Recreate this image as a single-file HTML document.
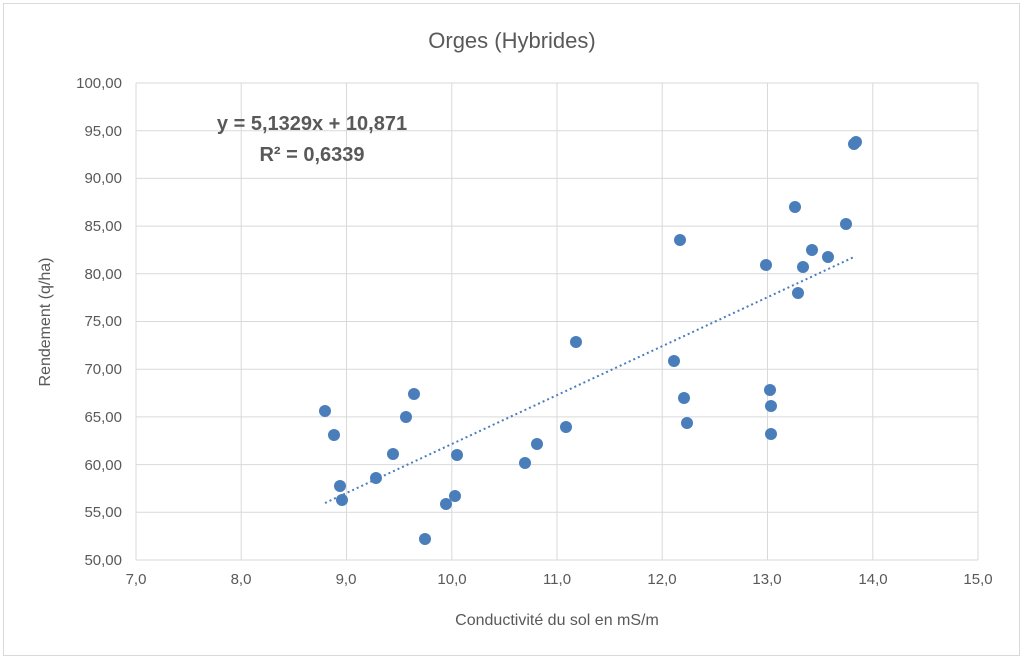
<!DOCTYPE html>
<html><head><meta charset="utf-8"><style>
body{margin:0;background:#fff;}
svg text{font-family:"Liberation Sans",sans-serif;}
</style></head><body>
<svg width="1024" height="660" xmlns="http://www.w3.org/2000/svg">
<rect x="3.5" y="3.5" width="1016" height="652" fill="#fff" stroke="#d9d9d9"/>
<text x="512" y="48" font-size="22" fill="#595959" text-anchor="middle">Orges (Hybrides)</text>
<g stroke="#d9d9d9" stroke-width="1">
<line x1="136" y1="83" x2="978" y2="83"/><line x1="136" y1="130.7" x2="978" y2="130.7"/>
<line x1="136" y1="178.4" x2="978" y2="178.4"/><line x1="136" y1="226.1" x2="978" y2="226.1"/>
<line x1="136" y1="273.8" x2="978" y2="273.8"/><line x1="136" y1="321.5" x2="978" y2="321.5"/>
<line x1="136" y1="369.2" x2="978" y2="369.2"/><line x1="136" y1="416.9" x2="978" y2="416.9"/>
<line x1="136" y1="464.6" x2="978" y2="464.6"/><line x1="136" y1="512.3" x2="978" y2="512.3"/>
<line x1="136" y1="560" x2="978" y2="560"/>
<line x1="136" y1="83" x2="136" y2="560"/><line x1="241.2" y1="83" x2="241.2" y2="560"/>
<line x1="346.5" y1="83" x2="346.5" y2="560"/><line x1="451.8" y1="83" x2="451.8" y2="560"/>
<line x1="557" y1="83" x2="557" y2="560"/><line x1="662.2" y1="83" x2="662.2" y2="560"/>
<line x1="767.5" y1="83" x2="767.5" y2="560"/><line x1="872.8" y1="83" x2="872.8" y2="560"/>
<line x1="978" y1="83" x2="978" y2="560"/>
</g>
<g font-size="15" fill="#595959" text-anchor="end">
<text x="122" y="88">100,00</text><text x="122" y="136">95,00</text><text x="122" y="183">90,00</text>
<text x="122" y="231">85,00</text><text x="122" y="279">80,00</text><text x="122" y="326">75,00</text>
<text x="122" y="374">70,00</text><text x="122" y="422">65,00</text><text x="122" y="470">60,00</text>
<text x="122" y="517">55,00</text><text x="122" y="565">50,00</text>
</g>
<g font-size="15" fill="#595959" text-anchor="middle">
<text x="136" y="584">7,0</text><text x="241" y="584">8,0</text><text x="346" y="584">9,0</text>
<text x="452" y="584">10,0</text><text x="557" y="584">11,0</text><text x="662" y="584">12,0</text>
<text x="767" y="584">13,0</text><text x="873" y="584">14,0</text><text x="978" y="584">15,0</text>
</g>
<text x="557" y="625" font-size="16" fill="#595959" text-anchor="middle">Conductivité du sol en mS/m</text>
<text transform="translate(50,322) rotate(-90)" font-size="16" fill="#595959" text-anchor="middle">Rendement (q/ha)</text>
<line x1="325" y1="503" x2="854" y2="257" stroke="#4a7ebb" stroke-width="2" stroke-dasharray="2,3"/>
<g fill="#4a7ebb">
<circle cx="325" cy="411" r="6"/><circle cx="334" cy="435" r="6"/><circle cx="340" cy="486" r="6"/>
<circle cx="342" cy="500" r="6"/><circle cx="376" cy="478" r="6"/><circle cx="393" cy="454" r="6"/>
<circle cx="406" cy="417" r="6"/><circle cx="414" cy="394" r="6"/><circle cx="446" cy="504" r="6"/>
<circle cx="455" cy="496" r="6"/><circle cx="457" cy="455" r="6"/><circle cx="425" cy="539" r="6"/>
<circle cx="525" cy="463" r="6"/><circle cx="537" cy="444" r="6"/><circle cx="566" cy="427" r="6"/>
<circle cx="576" cy="342" r="6"/><circle cx="674" cy="361" r="6"/><circle cx="680" cy="240" r="6"/>
<circle cx="684" cy="398" r="6"/><circle cx="687" cy="423" r="6"/><circle cx="766" cy="265" r="6"/>
<circle cx="770" cy="390" r="6"/><circle cx="771" cy="406" r="6"/><circle cx="771" cy="434" r="6"/>
<circle cx="795" cy="207" r="6"/><circle cx="798" cy="293" r="6"/><circle cx="803" cy="267" r="6"/>
<circle cx="812" cy="250" r="6"/><circle cx="828" cy="257" r="6"/><circle cx="846" cy="224" r="6"/>
<circle cx="854" cy="144" r="6"/><circle cx="856" cy="142" r="6"/>
</g>
<text x="312" y="130" font-size="20" font-weight="bold" fill="#595959" text-anchor="middle">y = 5,1329x + 10,871</text>
<text x="312" y="161" font-size="20" font-weight="bold" fill="#595959" text-anchor="middle">R² = 0,6339</text>
</svg>
</body></html>
